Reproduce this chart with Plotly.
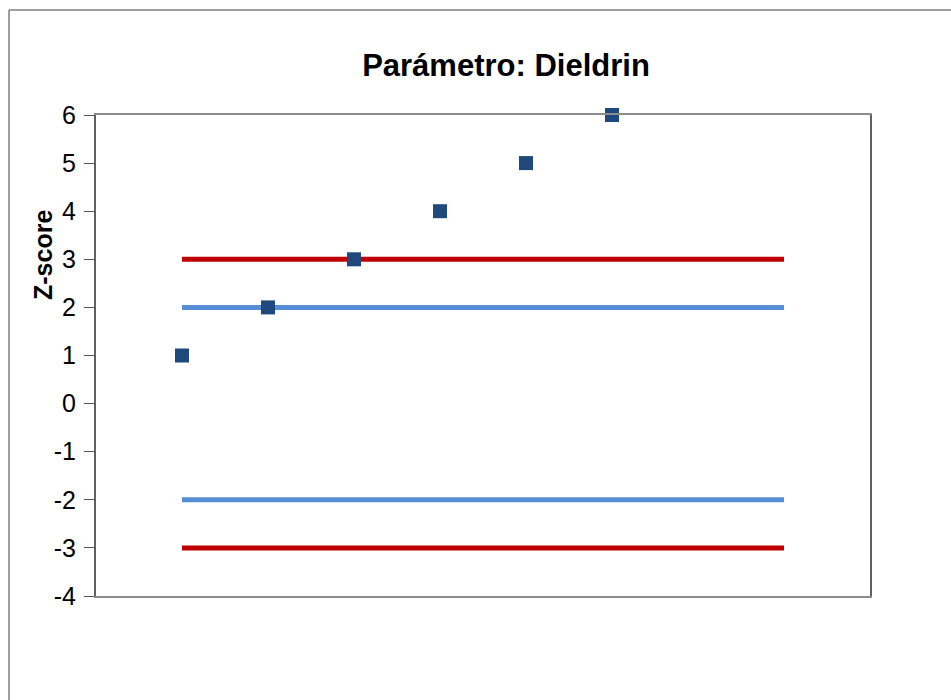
import plotly.graph_objects as go

# Data
labs = [1, 2, 3, 4, 5, 6]
zscores = [1, 2, 3, 4, 5, 6]
limit_x = [1, 8]
warn_upper = [2, 2]
warn_lower = [-2, -2]
act_upper = [3, 3]
act_lower = [-3, -3]
y_ticks = [-4, -3, -2, -1, 0, 1, 2, 3, 4, 5, 6]
y_tick_text = ["-4", "-3", "-2", "-1", "0", "1", "2", "3", "4", "5", "6"]

RED = "#C00000"
BLUE = "#558ED5"
NAVY = "#1F497D"

fig = go.Figure()
for yy, col in [(act_upper, RED), (warn_upper, BLUE), (warn_lower, BLUE), (act_lower, RED)]:
    fig.add_trace(go.Scatter(x=limit_x, y=yy, mode="lines",
                             line=dict(color=col, width=5), hoverinfo="skip",
                             showlegend=False))
fig.add_trace(go.Scatter(x=labs, y=zscores, mode="markers",
                         marker=dict(symbol="square", size=14, color=NAVY,
                                     line=dict(width=0)),
                         cliponaxis=False, showlegend=False))

W, H = 951, 700
L, T = 96, 115
PW, PH = 774, 481

bx0 = (9 - L) / PW
by1 = 1 + (T - 10) / PH
border = dict(color="#7F7F7F", width=1.5)

fig.update_layout(
    width=W, height=H,
    margin=dict(l=L, r=W - L - PW, t=T, b=H - T - PH),
    paper_bgcolor="white", plot_bgcolor="white",
    font=dict(family="Liberation Sans, Arial, sans-serif", color="black"),
    title=dict(text="<b>Parámetro: Dieldrin</b>", x=506 / W, xanchor="center",
               y=1 - 65 / H, yanchor="middle",
               font=dict(size=31, color="black")),
    xaxis=dict(range=[0, 9], showticklabels=False, ticks="", showgrid=False,
               zeroline=False, showline=True, linecolor="#8C8C8C", linewidth=2,
               mirror=True, fixedrange=True),
    yaxis=dict(range=[-4, 6], tickvals=y_ticks, ticktext=y_tick_text,
               ticks="outside", ticklen=10,
               tickwidth=1, tickcolor="#555555", showgrid=False, zeroline=False,
               showline=True, linecolor="#606060", linewidth=2, mirror=True,
               tickfont=dict(size=25, color="black"), ticklabelstandoff=3),
    shapes=[
        dict(type="line", xref="paper", yref="paper", x0=bx0, x1=bx0,
             y0=-0.5, y1=by1, line=border, layer="below"),
        dict(type="line", xref="paper", yref="paper", x0=bx0, x1=1.5,
             y0=by1, y1=by1, line=border, layer="below"),
    ],
    annotations=[dict(text="<b>Z-score</b>", xref="paper", yref="paper",
                      x=(43 - L) / PW, y=(596 - 255) / PH, textangle=-90,
                      showarrow=False, xanchor="center", yanchor="middle",
                      font=dict(size=25, color="black"))],
)

fig.write_html(
    "out.html",
    config={"displayModeBar": False},
    post_script="document.body.style.margin='0';"
                "document.body.style.overflow='hidden';"
                "document.documentElement.style.overflow='hidden';",
)
